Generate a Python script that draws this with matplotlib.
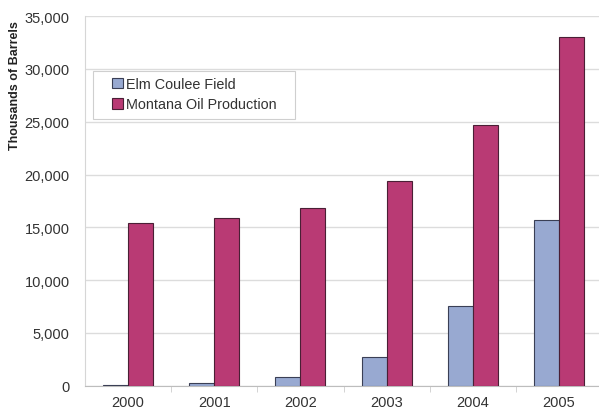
import numpy as np
import matplotlib.pyplot as plt
from matplotlib.patches import Rectangle
from matplotlib.ticker import FuncFormatter, FixedLocator

plt.rcParams['font.family'] = ['Liberation Sans', 'DejaVu Sans']

# annual production, thousands of barrels
years = ['2000', '2001', '2002', '2003', '2004', '2005']
elm_coulee = [50, 300, 800, 2700, 7550, 15700]
montana = [15430, 15900, 16860, 19390, 24700, 33000]

elm_color = '#98a9d1'
mt_color = '#b93a74'
text_color = '#333333'

fig = plt.figure(figsize=(5.99, 4.14), dpi=100)
ax = fig.add_axes([85 / 599, 27.3 / 414, 1 - 85 / 599, 369.6 / 414])

x = np.arange(len(years))
w = 0.29
ax.bar(x - w / 2, elm_coulee, w, color=elm_color, edgecolor='#3a3f55',
       linewidth=0.8, label='Elm Coulee Field', zorder=3)
ax.bar(x + w / 2, montana, w, color=mt_color, edgecolor='#4a1f35',
       linewidth=0.8, label='Montana Oil Production', zorder=3)

ax.set_xlim(-0.5, (599 - 129) / 86)
ax.set_ylim(0, 35000)
ax.set_yticks(np.arange(0, 35001, 5000))
ax.yaxis.set_major_formatter(FuncFormatter(lambda v, p: f'{int(v):,}'))
ax.grid(axis='y', color='#dcdcdc', linewidth=1, zorder=0)

ax.set_xticks(x)
ax.set_xticklabels(years)
ax.xaxis.set_minor_locator(FixedLocator(x[:-1] + 0.5))
ax.tick_params(axis='x', which='major', length=0, pad=7, labelsize=10.5,
               labelcolor=text_color)
ax.tick_params(axis='x', which='minor', length=4, color='#cccccc', direction='out')
ax.tick_params(axis='y', length=0, pad=11, labelsize=10.5, labelcolor=text_color)

for side in ['top', 'right']:
    ax.spines[side].set_visible(False)
ax.spines['left'].set_color('#d6d6d6')
ax.spines['bottom'].set_color('#bdbdbd')

fig.text(15 / 599, 1 - 86 / 414, 'Thousands of Barrels', rotation=90,
         ha='center', va='center', fontsize=9, fontweight='bold', color='#222222')

# legend box drawn separately so the entries can sit inset from its left edge
ax.add_patch(Rectangle((93 / 599, 1 - 120 / 414), 202 / 599, 48 / 414,
                       transform=fig.transFigure, facecolor='white', clip_on=False,
                       edgecolor='#cfcfcf', linewidth=0.8, zorder=4))
leg = ax.legend(loc='upper left', bbox_to_anchor=(112 / 599, 1 - 78 / 414),
                bbox_transform=fig.transFigure, borderaxespad=0, borderpad=0,
                frameon=False, fontsize=10.4, handlelength=0.75, handleheight=0.75,
                handletextpad=0.25, labelspacing=0.45, labelcolor=text_color)
leg.set_zorder(5)

fig.savefig('out.png', dpi=100)
